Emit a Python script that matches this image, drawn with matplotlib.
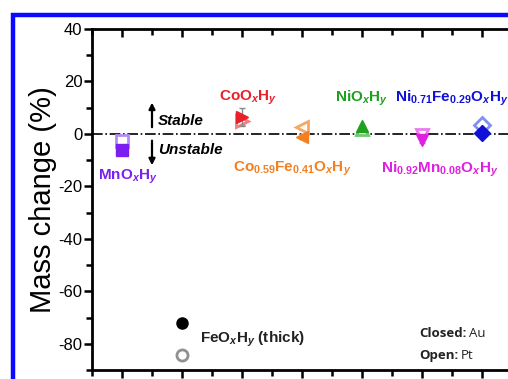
import matplotlib.pyplot as plt
from matplotlib.patches import Rectangle
from matplotlib.ticker import MultipleLocator

plt.rcParams['font.family'] = ['Liberation Sans', 'DejaVu Sans']
plt.rcParams['axes.unicode_minus'] = False
plt.rcParams['mathtext.fontset'] = 'custom'
plt.rcParams['mathtext.rm'] = 'Liberation Sans:bold'
plt.rcParams['mathtext.it'] = 'Liberation Sans:bold:italic'
plt.rcParams['mathtext.bf'] = 'Liberation Sans:bold'

# samples along x (1..7)
samples = ["MnOxHy", "FeOxHy", "CoOxHy", "Co0.59Fe0.41OxHy", "NiOxHy", "Ni0.92Mn0.08OxHy", "Ni0.71Fe0.29OxHy"]
xpos = [1, 2, 3, 4, 5, 6, 7]
closed_au = [-6.0, -72.0, 6.5, -1.1, 3.0, -2.5, 0.3]
open_pt = [-2.7, -84.4, 5.0, 2.5, 2.0, -0.5, 3.5]
err_au = [1.0, 0.0, 3.5, 1.0, 0.5, 0.8, 0.8]
colors = ['#7a1ff0', 'black', '#e8202a', '#f47f20', '#1fa01f', '#e020e0', '#1010d8']
open_colors = ['#b48cf5', '#909090', '#f08080', '#f7a860', '#70c870', '#ec7aec', '#8090f0']
markers = ['s', 'o', '>', '<', '^', 'v', 'D']

fig = plt.figure(figsize=(5.08, 3.79), dpi=100)
ax = fig.add_axes([92 / 508, 9 / 379, 420 / 508, 341 / 379])

ax.axhline(0, color='black', ls='-.', lw=1.2, zorder=1)

for i in range(len(xpos)):
    ax.errorbar(xpos[i], open_pt[i], yerr=err_au[i] * 0.5, fmt=markers[i], ms=8,
                mfc='white', mec=open_colors[i], mew=2, ecolor=open_colors[i],
                capsize=2, zorder=3)
    ax.errorbar(xpos[i], closed_au[i], yerr=err_au[i], fmt=markers[i], ms=8,
                mfc=colors[i], mec=colors[i], ecolor='#888888', elinewidth=1,
                capsize=2, zorder=4)

# sample labels
lab_kw = dict(fontsize=11, fontweight='bold', ha='center', va='center')
ax.text(1.1, -16.5, r'MnO$_x$H$_y$', color=colors[0], **lab_kw)
ax.text(2.3, -78.5, r'FeO$_x$H$_y$ (thick)', color='#222222', ha='left', va='center',
        fontsize=11, fontweight='bold')
ax.text(3.1, 13.8, r'CoO$_x$H$_y$', color=colors[2], **lab_kw)
ax.text(3.83, -13.5, r'Co$_{0.59}$Fe$_{0.41}$O$_x$H$_y$', color=colors[3], **lab_kw)
ax.text(5.0, 13.5, r'NiO$_x$H$_y$', color=colors[4], **lab_kw)
ax.text(6.3, -13.5, r'Ni$_{0.92}$Mn$_{0.08}$O$_x$H$_y$', color=colors[5], **lab_kw)
ax.text(6.5, 13.5, r'Ni$_{0.71}$Fe$_{0.29}$O$_x$H$_y$', color=colors[6], **lab_kw)

# stable / unstable arrows
ax.annotate('', xy=(1.5, 13.0), xytext=(1.5, 1.5),
            arrowprops=dict(arrowstyle='-|>', color='black', lw=1.6, mutation_scale=9))
ax.annotate('', xy=(1.5, -13.0), xytext=(1.5, -1.5),
            arrowprops=dict(arrowstyle='-|>', color='black', lw=1.6, mutation_scale=9))
ax.text(1.6, 5.0, 'Stable', fontsize=11, fontweight='bold', style='italic', va='center')
ax.text(1.6, -6.0, 'Unstable', fontsize=11, fontweight='bold', style='italic', va='center')

# closed / open legend text
leg_kw = dict(fontsize=9.5, family='Open Sans', color='#222222')
t1 = ax.text(5.95, -76.0, 'Closed:', fontweight='bold', va='center', **leg_kw)
ax.annotate('Au', xy=(1, 0.5), xycoords=t1, xytext=(2, 0), textcoords='offset points',
            va='center', **leg_kw)
t2 = ax.text(5.95, -84.5, 'Open:', fontweight='bold', va='center', **leg_kw)
ax.annotate('Pt', xy=(1, 0.5), xycoords=t2, xytext=(2, 0), textcoords='offset points',
            va='center', **leg_kw)

ax.set_xlim(0.5, 7.5)
ax.set_ylim(-90, 40)
ax.set_xticks(xpos)
ax.xaxis.set_minor_locator(MultipleLocator(0.5))
ax.yaxis.set_major_locator(MultipleLocator(20))
ax.yaxis.set_minor_locator(MultipleLocator(10))
ax.set_yticks([-80, -60, -40, -20, 0, 20, 40])
ax.tick_params(axis='both', which='both', width=1.8, labelsize=12)
ax.tick_params(axis='both', which='major', length=6)
ax.tick_params(axis='both', which='minor', length=4)
ax.tick_params(axis='x', which='both', direction='out', top=True, labelbottom=False)
ax.tick_params(axis='y', which='both', direction='out', right=True, pad=1)
ax.tick_params(which='both', top=True, right=True)
for t in ax.xaxis.get_ticklines(minor=False)[1::2] + ax.xaxis.get_ticklines(minor=True)[1::2]:
    t.set_marker(3)  # top ticks point inward
for t in ax.yaxis.get_ticklines(minor=False)[1::2] + ax.yaxis.get_ticklines(minor=True)[1::2]:
    t.set_marker(1)
for s in ax.spines.values():
    s.set_linewidth(2)
ax.set_ylabel('Mass change (%)', fontsize=21, labelpad=1)

fig.patches.append(Rectangle((13 / 508, -0.1), 1.2, 1.1 - 15 / 379, transform=fig.transFigure,
                             fill=False, edgecolor='#0a0aff', lw=3.2, figure=fig))

fig.savefig('out.png', dpi=100)
